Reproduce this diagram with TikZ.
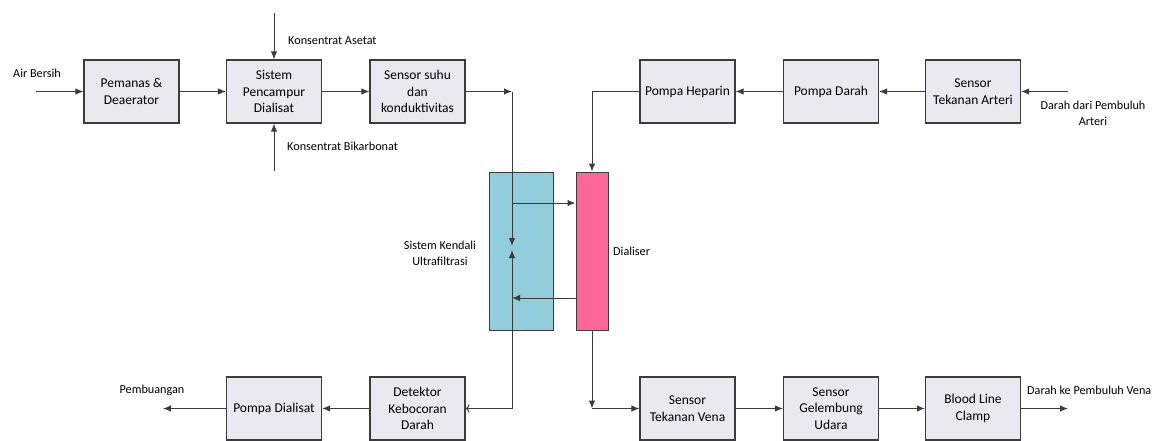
\documentclass[tikz,border=0pt]{standalone}
\usepackage{fontspec}
\setmainfont{Carlito}
\usepackage{tikz}
\usetikzlibrary{arrows,arrows.meta,positioning,calc}
\definecolor{dgray}{RGB}{60, 60, 60}
\definecolor{lbox}{RGB}{235, 233, 240}
\definecolor{lblue}{RGB}{146, 205, 220}
\definecolor{lpink}{RGB}{255, 102, 153}
\tikzstyle{block} = [rectangle, draw=dgray, line width=1.2pt, fill=lbox,
  align=center, minimum width=95pt, minimum height=63pt,
  font=\fontsize{13.5}{16.5}\selectfont]
\tikzstyle{tube} = [rectangle, draw=dgray, line width=1pt, minimum height=158pt]
\tikzstyle{lbl} = [font=\fontsize{12.2}{16}\selectfont, align=center, inner sep=0pt]
\tikzstyle{line} = [draw, line width=1pt, color=dgray, -{Latex[length=8pt,width=6.5pt]}]

\begin{document}
\begin{tikzpicture}[x=1pt,y=-1pt]
  \useasboundingbox (0,0) rectangle (1156,440);
  \def\ya{91.5};
  \def\yb{408.5};
  % baris atas
  \node [block] (pemanas) at (131.5,\ya) {Pemanas \&\\ Deaerator};
  \node [block] (pencampur) at (274,\ya) {Sistem\\ Pencampur\\ Dialisat};
  \node [block] (suhu) at (417.5,\ya) {Sensor suhu\\ dan\\ konduktivitas};
  \node [block] (heparin) at (687.5,\ya) {Pompa Heparin};
  \node [block] (darah) at (831,\ya) {Pompa Darah};
  \node [block] (arteri) at (973,\ya) {Sensor\\ Tekanan Arteri};

  % tengah
  \node [tube, fill=lblue, minimum width=64pt] (uf) at (521,251) {};
  \node [tube, fill=lpink, minimum width=32pt] (dialiser) at (592,251) {};

  % baris bawah
  \node [block] (dialisat) at (274,\yb) {Pompa Dialisat};
  \node [block] (detektor) at (417.5,\yb) {Detektor\\ Kebocoran\\ Darah};
  \node [block] (vena) at (687.5,\yb) {Sensor\\ Tekanan Vena};
  \node [block] (gelembung) at (831,\yb) {Sensor\\ Gelembung\\ Udara};
  \node [block] (clamp) at (973,\yb) {Blood Line\\ Clamp};

  % label
  \node [lbl] (tair) at (37,73) {Air Bersih};
  \node [lbl, anchor=west] (tasetat) at (288,41) {Konsentrat Asetat};
  \node [lbl, anchor=west] (tbikar) at (287,146) {Konsentrat Bikarbonat};
  \node [lbl] (tuf) at (440,253) {Sistem Kendali\\ Ultrafiltrasi};
  \node [lbl, anchor=west] (tdial) at (613,251) {Dialiser};
  \node [lbl] (tarteri) at (1093,113) {Darah dari Pembuluh\\ Arteri};
  \node [lbl] (tbuang) at (152,390) {Pembuangan};
  \node [lbl, anchor=west] (tvena) at (1027,390) {Darah ke Pembuluh Vena};

  % titik bantu
  \coordinate (airin) at (36,\ya);
  \coordinate (asetat) at (274,13);
  \coordinate (bikar) at (274,171);
  \coordinate (c1) at (512,\ya);
  \coordinate (m1) at (512,246);
  \coordinate (m2) at (512,250);
  \coordinate (c2) at (512,\yb);
  \coordinate (c3) at (512,203);
  \coordinate (c4) at (512,298);
  \coordinate (c5) at (592,\yb);
  \coordinate (arteriin) at (1068,\ya);
  \coordinate (venaout) at (1068,\yb);
  \coordinate (buang) at (163,\yb);

  % aliran dialisat
  \path [line] (airin) -- (pemanas);
  \path [line] (pemanas) -- (pencampur);
  \path [line] (asetat) -- (pencampur.north);
  \path [line] (bikar) -- (pencampur.south);
  \path [line] (pencampur) -- (suhu);
  \path [line] (suhu) -- (c1);
  \path [line] (c1) -- (m1);
  \path [line] (c2) -- (m2);
  \path [line] (c3) -- (c3 -| dialiser.west);
  \path [line] (c4 -| dialiser.west) -- (c4);
  \path [draw, line width=1pt, color=dgray, -{To[length=4pt]}] (c2) -- (detektor.east);
  \path [line] (detektor) -- (dialisat);
  \path [line] (dialisat) -- (buang);

  % aliran darah
  \path [line] (arteriin) -- (arteri);
  \path [line] (arteri) -- (darah);
  \path [line] (darah) -- (heparin);
  \path [line] (heparin.west) -| (dialiser.north);
  \path [line] (dialiser.south) -- (c5);
  \path [line] (c5) -- (vena);
  \path [line] (vena) -- (gelembung);
  \path [line] (gelembung) -- (clamp);
  \path [line] (clamp) -- (venaout);
\end{tikzpicture}
\end{document}
